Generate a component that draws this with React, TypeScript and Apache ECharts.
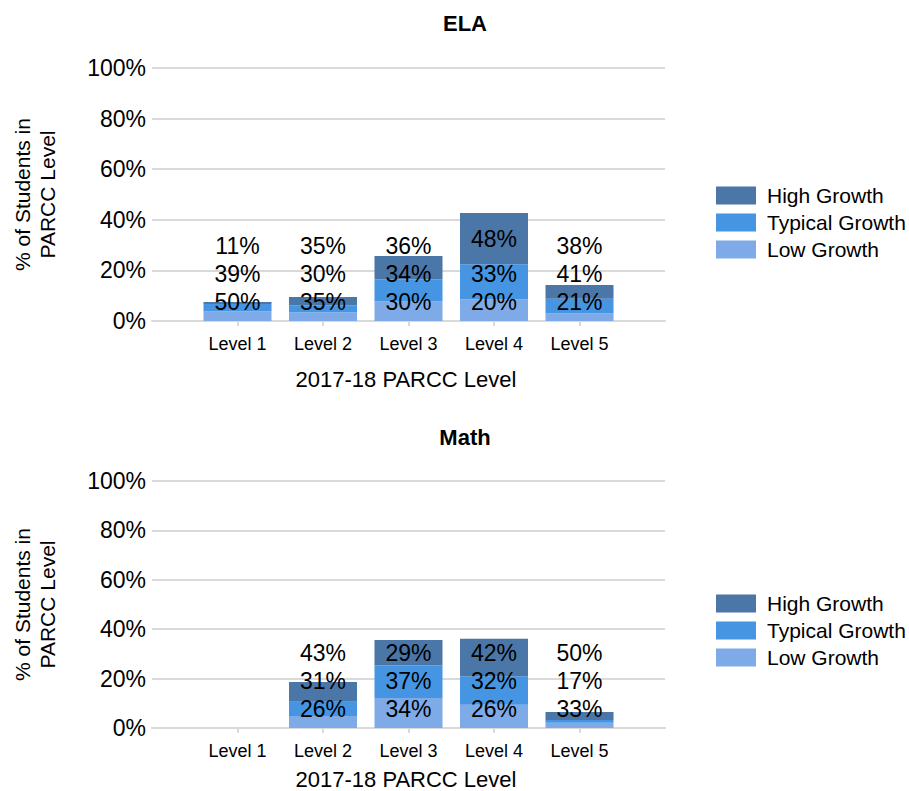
import React, { useEffect, useRef } from 'react';
import * as echarts from 'echarts';

// ---------- data ----------
const categories = ['', 'Level 1', 'Level 2', 'Level 3', 'Level 4', 'Level 5', ''];
const growthNames = ['Low Growth', 'Typical Growth', 'High Growth'];
const legendOrder = ['High Growth', 'Typical Growth', 'Low Growth'];

// % of all students who are in each 2017-18 PARCC level
const elaLevelTotals = [7.5, 9.5, 25.7, 42.3, 14.2];
// growth share (%) within each level
const elaLow = [50, 35, 30, 20, 21];
const elaTypical = [39, 30, 34, 33, 41];
const elaHigh = [11, 35, 36, 48, 38];

const mathLevelTotals = [0, 18.6, 35.6, 36.1, 6.5];
const mathLow = [null, 26, 34, 26, 33];
const mathTypical = [null, 31, 37, 32, 17];
const mathHigh = [null, 43, 29, 42, 50];

// ---------- style ----------
const colors = ['#7eaae8', '#4595e3', '#4a76a8'];
const FONT = 'Liberation Sans, Arial, Helvetica, sans-serif';
const GRID_COLOR = '#d9d9d9';

const panels = [
  {
    title: 'ELA',
    totals: elaLevelTotals,
    shares: [elaLow, elaTypical, elaHigh],
    grid: { left: 152, top: 68, width: 513, height: 253 },
    titleY: 23,
    nameY: 379,
    legendTop: 185,
  },
  {
    title: 'Math',
    totals: mathLevelTotals,
    shares: [mathLow, mathTypical, mathHigh],
    grid: { left: 152, top: 481, width: 513, height: 247 },
    titleY: 437,
    nameY: 779,
    legendTop: 593,
  },
];

// place the three labels of a bar so that they do not overlap (pixel offsets)
function labelOffsets(totals: number[], shares: (number | null)[][], pxPerUnit: number) {
  const out: number[][] = shares.map(() => totals.map(() => 0));
  const MIN = 19;
  const GAP = 28;
  totals.forEach((t, i) => {
    if (!t) return;
    let base = 0;
    let prev = -Infinity;
    shares.forEach((s, k) => {
      const h = ((t * (s[i] || 0)) / 100) * pxPerUnit;
      const c = base + h / 2;
      base += h;
      const y = Math.max(c, k === 0 ? MIN : prev + GAP);
      prev = y;
      out[k][i] = -(y - c);
    });
  });
  return out;
}

function buildOption() {
  const grids: any[] = [];
  const xAxes: any[] = [];
  const yAxes: any[] = [];
  const series: any[] = [];
  const legends: any[] = [];
  const graphics: any[] = [];

  panels.forEach((p, pi) => {
    grids.push({ ...p.grid, containLabel: false });
    xAxes.push({
      type: 'category',
      gridIndex: pi,
      data: categories,
      boundaryGap: false,
      axisLine: { lineStyle: { color: GRID_COLOR, width: 2 } },
      axisTick: {
        show: true,
        length: 5,
        lineStyle: { color: GRID_COLOR, width: 2 },
        interval: (idx: number) => idx > 0 && idx < categories.length - 1,
      },
      axisLabel: { interval: 0, margin: 14, fontSize: 18, color: '#000', fontFamily: FONT },
      splitLine: { show: false },
    });
    yAxes.push({
      type: 'value',
      gridIndex: pi,
      min: 0,
      max: 100,
      interval: 20,
      axisLine: { show: false },
      axisTick: { show: false },
      axisLabel: { formatter: '{value}%', fontSize: 23, margin: 6, color: '#000', fontFamily: FONT },
      splitLine: { lineStyle: { color: GRID_COLOR, width: 2 } },
    });

    const offs = labelOffsets(p.totals, p.shares, p.grid.height / 100);
    p.shares.forEach((s, k) => {
      const data: any[] = [null];
      p.totals.forEach((t, i) => {
        if (!t || s[i] == null) {
          data.push(null);
        } else {
          data.push({
            value: (t * (s[i] as number)) / 100,
            share: s[i],
            label: { offset: [0, offs[k][i]] },
          });
        }
      });
      data.push(null);
      series.push({
        type: 'bar',
        name: growthNames[k],
        xAxisIndex: pi,
        yAxisIndex: pi,
        stack: 'stack' + pi,
        barWidth: 68,
        data,
        itemStyle: { color: colors[k] },
        label: {
          show: true,
          position: 'inside',
          fontSize: 23,
          color: '#000',
          fontFamily: FONT,
          formatter: (params: any) => (params.data && params.data.share != null ? params.data.share + '%' : ''),
        },
      });
    });

    legends.push({
      orient: 'vertical',
      left: 716,
      top: p.legendTop,
      padding: 0,
      itemWidth: 40,
      itemHeight: 18,
      itemGap: 6,
      icon: 'rect',
      data: legendOrder,
      selectedMode: false,
      textStyle: { fontSize: 21, color: '#000', fontFamily: FONT, lineHeight: 20, padding: [0, 0, 0, 6] },
    });

    graphics.push(
      {
        type: 'text',
        x: 465,
        y: p.titleY,
        style: {
          text: p.title,
          fontSize: 22,
          fontWeight: 'bold',
          fontFamily: FONT,
          fill: '#000',
          textAlign: 'center',
          textVerticalAlign: 'middle',
        },
      },
      {
        type: 'text',
        x: 34.5,
        y: p.grid.top + p.grid.height / 2,
        rotation: Math.PI / 2,
        style: {
          text: '% of Students in\nPARCC Level',
          fontSize: 21,
          lineHeight: 25,
          fontFamily: FONT,
          fill: '#000',
          textAlign: 'center',
          textVerticalAlign: 'middle',
        },
      },
      {
        type: 'text',
        x: 406,
        y: p.nameY,
        style: {
          text: '2017-18 PARCC Level',
          fontSize: 22,
          fontFamily: FONT,
          fill: '#000',
          textAlign: 'center',
          textVerticalAlign: 'middle',
        },
      }
    );
  });

  return {
    animation: false,
    backgroundColor: '#fff',
    textStyle: { fontFamily: FONT },
    grid: grids,
    xAxis: xAxes,
    yAxis: yAxes,
    legend: legends,
    series,
    graphic: graphics,
  };
}

export default function App() {
  const ref = useRef<HTMLDivElement>(null);
  useEffect(() => {
    const chart = echarts.init(ref.current as HTMLDivElement, null, { renderer: 'svg' });
    chart.setOption(buildOption() as any);
    return () => chart.dispose();
  }, []);
  return (
    <div
      ref={ref}
      style={{ position: 'fixed', left: 0, top: 0, width: 909, height: 791, background: '#fff' }}
    />
  );
}
